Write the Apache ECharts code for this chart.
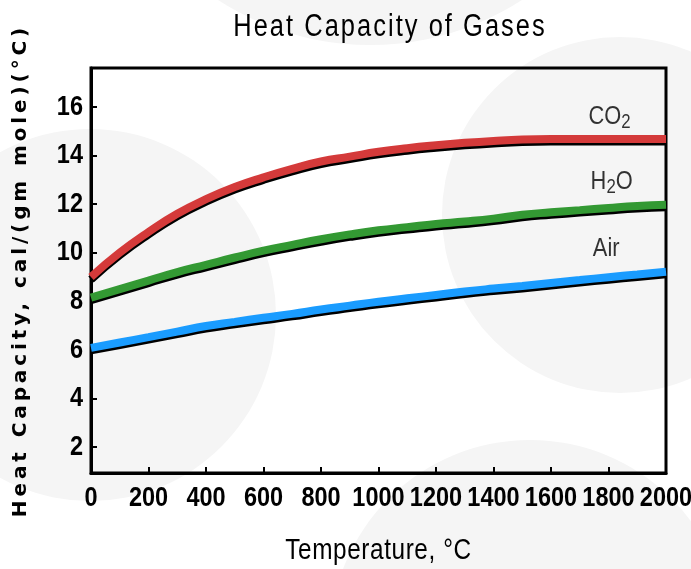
<!DOCTYPE html>
<html>
<head>
<meta charset="utf-8">
<script src="https://cdn.jsdelivr.net/npm/echarts@6/dist/echarts.min.js"></script>
<style>
html,body{margin:0;padding:0;background:#fff;}
#chart{width:691px;height:569px;}
</style>
</head>
<body>
<div id="chart"></div>
<script>
// ---------- data ----------
const temps = [0,100,200,300,400,500,600,700,800,900,1000,1100,1200,1300,1400,1500,1600,1700,1800,1900,2000];
const co2 = [9.0,10.0,10.85,11.6,12.2,12.7,13.1,13.45,13.75,13.95,14.15,14.3,14.42,14.52,14.6,14.66,14.68,14.68,14.68,14.68,14.68];
const h2o = [8.15,8.5,8.85,9.2,9.5,9.8,10.08,10.32,10.55,10.75,10.92,11.05,11.18,11.28,11.4,11.56,11.66,11.75,11.84,11.92,11.97];
const air = [6.08,6.3,6.52,6.75,6.98,7.15,7.32,7.48,7.66,7.82,7.98,8.12,8.26,8.4,8.52,8.63,8.75,8.87,8.99,9.1,9.21];
const yTicks = [2,4,6,8,10,12,14,16];
const labelNames = ['CO2','H2O','Air'];
const labelTemps = [1804,1811,1792];
const labelValues = [15.6,12.9,10.15];

// ---------- condensed / spaced text emulation ----------
const FX = {
  xtitle: {sx: 0.82, ls: 2.5},
  xname: {sx: 0.84, ls: 0.7},
  xcond: {sx: 0.84, ls: 0},
  xspread: {sx: 1, ls: 3.9}
};
function fxOf(ctx){
  const f = ctx.font || '';
  for (const k in FX) if (f.indexOf(k) >= 0) return FX[k];
  return null;
}
const P = CanvasRenderingContext2D.prototype;
const origFill = P.fillText, origMeasure = P.measureText;
P.fillText = function(t, x, y, mw){
  const fx = fxOf(this);
  if (!fx) return mw === undefined ? origFill.call(this, t, x, y) : origFill.call(this, t, x, y, mw);
  this.save();
  try { this.letterSpacing = fx.ls + 'px'; } catch(e) {}
  this.translate(x, y);
  this.scale(fx.sx, 1);
  origFill.call(this, t, 0, 0);
  this.restore();
};
P.measureText = function(t){
  const m = origMeasure.call(this, t);
  const fx = fxOf(this);
  if (!fx) return m;
  const n = String(t).length;
  return {
    width: (m.width + fx.ls * n) * fx.sx,
    actualBoundingBoxAscent: m.actualBoundingBoxAscent,
    actualBoundingBoxDescent: m.actualBoundingBoxDescent,
    actualBoundingBoxLeft: m.actualBoundingBoxLeft * fx.sx,
    actualBoundingBoxRight: (m.actualBoundingBoxRight + fx.ls * n) * fx.sx,
    fontBoundingBoxAscent: m.fontBoundingBoxAscent,
    fontBoundingBoxDescent: m.fontBoundingBoxDescent
  };
};

// ---------- chart ----------
const chart = echarts.init(document.getElementById('chart'), null, {renderer: 'canvas'});

function pairs(vals){ return temps.map((t, i) => [t, vals[i]]); }
function lineSeries(name, vals, color){
  return {
    name: name, type: 'line', data: pairs(vals), smooth: true,
    symbol: 'none', silent: true, z: 3,
    lineStyle: {width: 8, color: color, shadowColor: '#000', shadowBlur: 0, shadowOffsetY: 2.5, cap: 'butt'}
  };
}
function subFormat(n){
  const m = n.match(/^([A-Za-z]+)(\d)([A-Za-z]*)$/);
  if (!m) return '{m|' + n + '}';
  return '{m|' + m[1] + '}{s|' + m[2] + '}' + (m[3] ? '{m|' + m[3] + '}' : '');
}
const BG = '#f5f5f5';

const option = {
  backgroundColor: '#ffffff',
  animation: false,
  graphic: [
    {type: 'circle', z: -10, silent: true, shape: {cx: 90, cy: 315, r: 186}, style: {fill: BG}},
    {type: 'circle', z: -10, silent: true, shape: {cx: 370, cy: -234, r: 279}, style: {fill: BG}},
    {type: 'circle', z: -10, silent: true, shape: {cx: 620, cy: 215, r: 178}, style: {fill: BG}},
    {type: 'circle', z: -10, silent: true, shape: {cx: 530, cy: 640, r: 200}, style: {fill: BG}}
  ],
  title: {
    text: 'Heat Capacity of Gases',
    left: 390, textAlign: 'center', top: 14, padding: 0,
    textStyle: {fontFamily: 'Liberation Sans, xtitle', fontSize: 31, fontWeight: 'normal', color: '#000'}
  },
  grid: {left: 91, right: 25, top: 68, bottom: 96, outerBoundsMode: 'none', containLabel: false,
    show: true, borderColor: '#000', borderWidth: 3, backgroundColor: 'transparent'},
  xAxis: {
    type: 'value', min: 0, max: 2000, interval: 200,
    name: 'Temperature, °C', nameLocation: 'middle', nameGap: 66,
    nameTextStyle: {fontFamily: 'Liberation Sans, xname', fontSize: 29, color: '#000'},
    axisLine: {show: true, lineStyle: {color: '#000', width: 3}},
    axisTick: {show: true, inside: true, length: 6, lineStyle: {color: '#000', width: 2}},
    axisLabel: {margin: 14, showMinLabel: true, showMaxLabel: true, hideOverlap: false,
      formatter: v => String(v),
      fontFamily: 'Liberation Sans, xcond', fontWeight: 'bold', fontSize: 28, color: '#000'},
    splitLine: {show: false}
  },
  yAxis: {
    type: 'value', min: 0.93, max: 17.6,
    name: 'Heat Capacity, cal/(gm mole)(°C)', nameLocation: 'middle', nameGap: 58,
    nameTextStyle: {fontFamily: 'DejaVu Sans, xspread', fontWeight: 'bold', fontSize: 20, color: '#000'},
    axisLine: {show: true, lineStyle: {color: '#000', width: 3}},
    axisTick: {show: true, inside: true, length: 6, lineStyle: {color: '#000', width: 2}, customValues: yTicks},
    axisLabel: {margin: 8, fontFamily: 'Liberation Sans, xcond', fontWeight: 'bold', fontSize: 28, color: '#000', customValues: yTicks},
    splitLine: {show: false}
  },
  series: [
    lineSeries('Air', air, '#1a9cff'),
    lineSeries('H2O', h2o, '#339933'),
    lineSeries('CO2', co2, '#d43a3a'),
    {
      type: 'scatter', silent: true, symbolSize: 1, z: 5,
      itemStyle: {color: 'rgba(0,0,0,0)'},
      data: labelNames.map((n, i) => [labelTemps[i], labelValues[i], n]),
      label: {
        show: true, position: 'inside', color: '#000', textBorderWidth: 0,
        formatter: p => subFormat(p.data[2]),
        rich: {
          m: {fontFamily: 'Liberation Sans, xcond', fontSize: 26, color: '#000', lineHeight: 28},
          s: {fontFamily: 'Liberation Sans, xcond', fontSize: 20, color: '#000', lineHeight: 16, verticalAlign: 'bottom'}
        }
      }
    }
  ]
};
chart.setOption(option);
</script>
</body>
</html>
